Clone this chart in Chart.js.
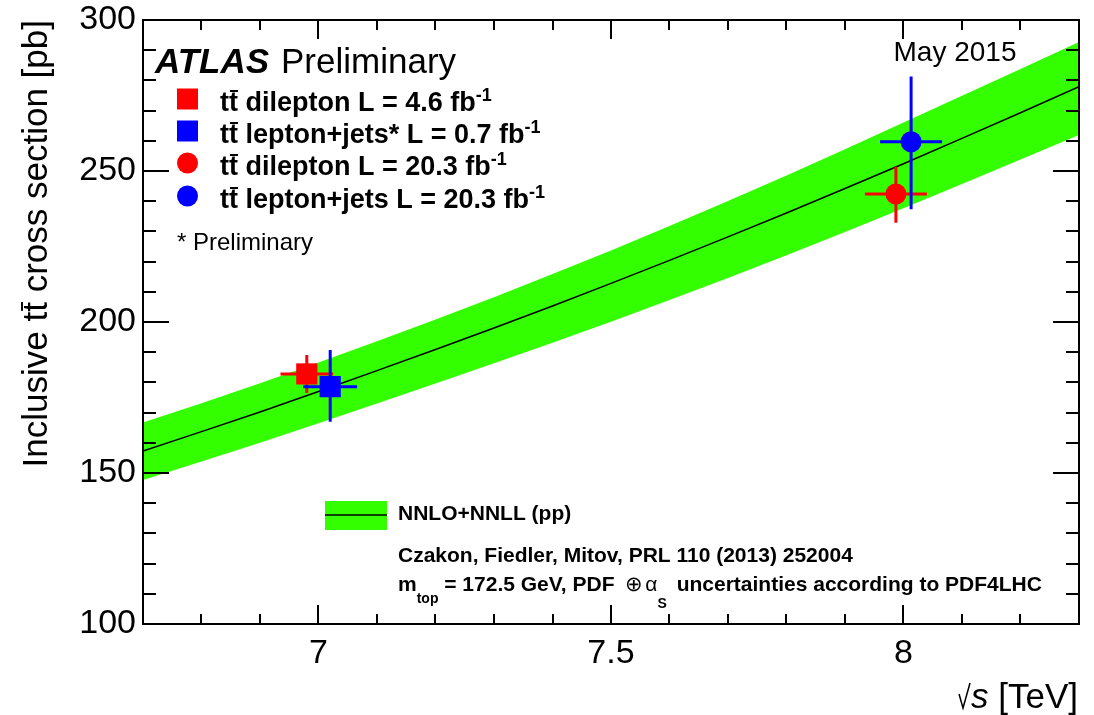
<!DOCTYPE html>
<html>
<head>
<meta charset="utf-8">
<script src="https://cdn.jsdelivr.net/npm/chart.js@4.4.1/dist/chart.umd.min.js"></script>
<style>
  html, body { margin: 0; padding: 0; background: #fff; }
  #wrap { width: 1094px; height: 715px; }
</style>
</head>
<body>
<div id="wrap"><canvas id="xsec" width="1094" height="715"></canvas></div>
<script>
// theory band, NNLO+NNLL (pp)
const theoryEnergy = [6.7, 6.8, 6.9, 7.0, 7.1, 7.2, 7.3, 7.4, 7.5, 7.6, 7.7, 7.8, 7.9, 8.0, 8.1, 8.2, 8.3];
const theoryCentral = [157.3, 163.7, 170.2, 177.0, 183.9, 190.9, 198.0, 205.3, 212.8, 220.4, 228.2, 236.1, 244.2, 252.4, 260.8, 269.3, 277.9];
const theoryUp = [166.7, 173.1, 179.7, 186.6, 193.6, 200.8, 208.2, 215.9, 223.7, 231.8, 240.1, 248.5, 257.2, 266.1, 274.9, 283.8, 292.7];
const theoryDown = [147.7, 153.8, 160.0, 166.5, 173.0, 179.6, 186.3, 193.1, 200.1, 207.3, 214.6, 222.1, 229.8, 237.7, 245.7, 253.8, 261.9];

// measurements (drawn order: red square, blue square, red circle, blue circle)
const measLabels = ['dilepton L = 4.6 fb', 'lepton+jets* L = 0.7 fb', 'dilepton L = 20.3 fb', 'lepton+jets L = 20.3 fb'];
const measEnergy = [6.980, 7.020, 7.987, 8.013];
const measXsec = [182.8, 178.6, 242.4, 259.7];
const measErrUp = [6.3, 12.1, 9.0, 21.6];
const measErrDown = [6.3, 11.6, 9.5, 22.4];
const measErrX = [0.045, 0.046, 0.053, 0.053];
const measColor = ['#ff0000', '#0000ff', '#ff0000', '#0000ff'];
const measStyle = ['rect', 'rect', 'circle', 'circle'];

// axes
const xMajorTicks = [7, 7.5, 8];
const xTickLabels = ['7', '7.5', '8'];
const yMajorTicks = [100, 150, 200, 250, 300];
const yTickLabels = ['100', '150', '200', '250', '300'];

const FONT = '"Liberation Sans", Arial, Helvetica, sans-serif';
const GREEN = '#33ff00';

function drawRuns(ctx, x, y, parts) {
  let cx = x;
  parts.forEach(function (p) {
    ctx.font = p.f;
    cx += p.dx || 0;
    ctx.fillText(p.t, cx, y + (p.dy || 0));
    const w = ctx.measureText(p.t).width;
    if (p.bar) ctx.fillRect(cx + 1, y - p.bar, w - 1, 2);
    cx += w;
  });
  return cx - x;
}
function runsWidth(ctx, parts) {
  let w = 0;
  parts.forEach(function (p) { ctx.font = p.f; w += ctx.measureText(p.t).width + (p.dx || 0); });
  return w;
}

const errorBars = {
  id: 'errorBars',
  beforeDatasetDraw: function (chart, args) {
    const ds = chart.data.datasets[args.index];
    if (ds.meas === undefined) return;
    const i = ds.meas;
    const xs = chart.scales.x, ys = chart.scales.y, ctx = chart.ctx;
    const px = xs.getPixelForValue(measEnergy[i]);
    const py = ys.getPixelForValue(measXsec[i]);
    ctx.save();
    ctx.strokeStyle = measColor[i];
    ctx.lineWidth = 3;
    ctx.beginPath();
    ctx.moveTo(px, ys.getPixelForValue(measXsec[i] + measErrUp[i]));
    ctx.lineTo(px, ys.getPixelForValue(measXsec[i] - measErrDown[i]));
    ctx.moveTo(xs.getPixelForValue(measEnergy[i] - measErrX[i]), py);
    ctx.lineTo(xs.getPixelForValue(measEnergy[i] + measErrX[i]), py);
    ctx.stroke();
    ctx.restore();
  }
};

const frame = {
  id: 'frame',
  afterDraw: function (chart) {
    const ctx = chart.ctx, a = chart.chartArea;
    const xs = chart.scales.x, ys = chart.scales.y;
    ctx.save();
    ctx.strokeStyle = '#000';
    ctx.lineWidth = 2;
    ctx.strokeRect(a.left, a.top, a.right - a.left, a.bottom - a.top);

    // ticks, pointing inward on all four sides
    ctx.beginPath();
    for (let k = 67; k <= 83; k++) {
      const v = k / 10;
      const major = xMajorTicks.some(function (m) { return Math.abs(m - v) < 1e-6; });
      const len = major ? 19 : 10;
      const px = Math.round(xs.getPixelForValue(v));
      ctx.moveTo(px, a.bottom); ctx.lineTo(px, a.bottom - len);
      ctx.moveTo(px, a.top); ctx.lineTo(px, a.top + len);
    }
    for (let v = 100; v <= 300; v += 10) {
      const major = yMajorTicks.indexOf(v) >= 0;
      const len = major ? 26 : 13;
      const py = Math.round(ys.getPixelForValue(v));
      ctx.moveTo(a.left, py); ctx.lineTo(a.left + len, py);
      ctx.moveTo(a.right, py); ctx.lineTo(a.right - len, py);
    }
    ctx.stroke();

    // tick labels
    ctx.fillStyle = '#000';
    ctx.font = '34px ' + FONT;
    ctx.textAlign = 'center';
    ctx.textBaseline = 'alphabetic';
    xMajorTicks.forEach(function (v, i) {
      ctx.fillText(xTickLabels[i], xs.getPixelForValue(v), 663);
    });
    ctx.textAlign = 'right';
    ctx.textBaseline = 'middle';
    yMajorTicks.forEach(function (v, i) {
      ctx.fillText(yTickLabels[i], 136, ys.getPixelForValue(v));
    });
    ctx.textAlign = 'left';
    ctx.textBaseline = 'alphabetic';

    // y title
    const reg35 = '35px ' + FONT;
    const yTitle = [
      { t: 'Inclusive ', f: reg35 },
      { t: 't', f: reg35 },
      { t: 't', f: reg35, bar: 26 },
      { t: ' cross section [pb]', f: reg35 }
    ];
    ctx.save();
    ctx.translate(47, 20);
    ctx.rotate(-Math.PI / 2);
    drawRuns(ctx, -runsWidth(ctx, yTitle), 0, yTitle);
    ctx.restore();

    // x title: sqrt(s) [TeV]
    const xTitle = [{ t: 's', f: 'italic 35px ' + FONT }, { t: ' [TeV]', f: reg35 }];
    const xw = runsWidth(ctx, xTitle);
    const x0 = 1078 - xw;
    ctx.lineWidth = 1.5;
    ctx.beginPath();
    ctx.moveTo(x0 - 12, 694); ctx.lineTo(x0 - 8, 708); ctx.lineTo(x0 - 1, 683);
    ctx.stroke();
    drawRuns(ctx, x0, 708, xTitle);

    // ATLAS Preliminary
    ctx.font = 'italic bold 35px ' + FONT;
    ctx.fillText('ATLAS', 155, 73);
    ctx.font = '35px ' + FONT;
    ctx.fillText('Preliminary', 281, 73);

    // May 2015
    ctx.textAlign = 'center';
    ctx.font = '28px ' + FONT;
    ctx.fillText('May 2015', 955, 61);
    ctx.textAlign = 'left';

    // measurement legend
    const b27 = 'bold 27px ' + FONT;
    const b18 = 'bold 18px ' + FONT;
    const rowY = [99, 131, 163, 196];
    measLabels.forEach(function (lab, i) {
      ctx.fillStyle = measColor[i];
      if (measStyle[i] === 'rect') {
        ctx.fillRect(177, rowY[i] - 10.5, 21, 21);
      } else {
        ctx.beginPath();
        ctx.arc(187.5, rowY[i], 10.5, 0, Math.PI * 2);
        ctx.fill();
      }
      ctx.fillStyle = '#000';
      drawRuns(ctx, 220, rowY[i] + 12, [
        { t: 't', f: b27 },
        { t: 't', f: b27, bar: 21 },
        { t: ' ' + lab, f: b27 },
        { t: '-1', f: b18, dy: -10 }
      ]);
    });
    ctx.font = '24px ' + FONT;
    ctx.fillText('* Preliminary', 177, 250);

    // theory legend
    ctx.fillStyle = GREEN;
    ctx.fillRect(325, 501, 62, 29);
    ctx.strokeStyle = '#000';
    ctx.lineWidth = 1.5;
    ctx.beginPath();
    ctx.moveTo(325, 515); ctx.lineTo(387, 515);
    ctx.stroke();
    ctx.fillStyle = '#000';
    const b21 = 'bold 21px ' + FONT;
    const b14 = 'bold 14px ' + FONT;
    ctx.font = b21;
    ctx.fillText('NNLO+NNLL (pp)', 398, 520);
    ctx.fillText('Czakon, Fiedler, Mitov, PRL 110 (2013) 252004', 398, 562);
    drawRuns(ctx, 398, 591, [
      { t: 'm', f: b21 },
      { t: 'top', f: b14, dy: 12 },
      { t: ' = 172.5 GeV, PDF ', f: b21 },
      { t: '\u2295', f: '21px ' + FONT, dx: 5 },
      { t: '\u03b1', f: '21px ' + FONT, dx: 2 },
      { t: 'S', f: b14, dy: 17 },
      { t: ' uncertainties according to PDF4LHC', f: b21, dx: 4 }
    ]);
    ctx.restore();
  }
};

const datasets = [
  {
    label: 'band up',
    data: theoryEnergy.map(function (e, i) { return { x: e, y: theoryUp[i] }; }),
    borderWidth: 0, pointRadius: 0, backgroundColor: GREEN, fill: '+1', order: 20
  },
  {
    label: 'band down',
    data: theoryEnergy.map(function (e, i) { return { x: e, y: theoryDown[i] }; }),
    borderWidth: 0, pointRadius: 0, fill: false, order: 19
  },
  {
    label: 'NNLO+NNLL',
    data: theoryEnergy.map(function (e, i) { return { x: e, y: theoryCentral[i] }; }),
    borderColor: '#000', borderWidth: 1.5, pointRadius: 0, fill: false, order: 18
  }
];
measEnergy.forEach(function (e, i) {
  datasets.push({
    label: measLabels[i],
    meas: i,
    data: [{ x: e, y: measXsec[i] }],
    showLine: false,
    pointStyle: measStyle[i],
    pointRadius: measStyle[i] === 'rect' ? 15 : 10.5,
    pointBackgroundColor: measColor[i],
    pointBorderWidth: 0,
    order: 10 - i
  });
});

new Chart(document.getElementById('xsec'), {
  type: 'line',
  data: { datasets: datasets },
  options: {
    responsive: false,
    animation: false,
    devicePixelRatio: 1,
    layout: { padding: { left: 143, top: 20, right: 15, bottom: 91 } },
    elements: { line: { tension: 0 } },
    scales: {
      x: { type: 'linear', min: 6.7, max: 8.3, display: false },
      y: { type: 'linear', min: 100, max: 300, display: false }
    },
    plugins: { legend: { display: false }, tooltip: { enabled: false } }
  },
  plugins: [errorBars, frame]
});
</script>
</body>
</html>
